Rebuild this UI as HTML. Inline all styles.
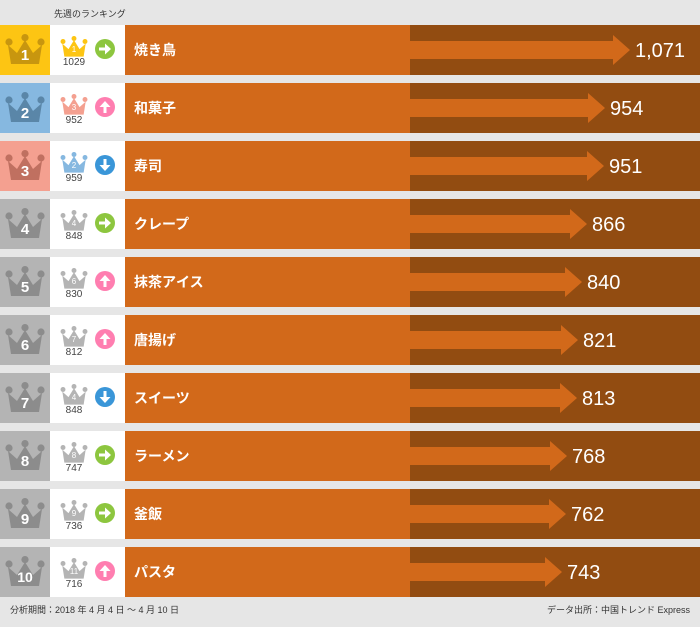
<!DOCTYPE html><html><head><meta charset="utf-8"><style>
body{margin:0;background:#e6e6e6;font-family:"Liberation Sans","Noto Sans CJK JP",sans-serif}
svg text{font-family:"Liberation Sans","Noto Sans CJK JP",sans-serif}
</style></head><body>
<svg width="700" height="622" xmlns="http://www.w3.org/2000/svg">
<defs>
<symbol id="cr" viewBox="0 0 40 32"><circle cx="4" cy="8" r="3.6"/><circle cx="20" cy="3.6" r="3.6"/><circle cx="36" cy="8" r="3.6"/><path d="M3,11 L12,19 L20,6 L28,19 L37,11 L34,30 L6,30 Z"/></symbol>
</defs>
<rect width="700" height="622" fill="#e6e6e6"/>
<text x="54" y="17" font-size="9" fill="#333">先週のランキング</text>
<g id="rows"></g>
<text x="10" y="613" font-size="9" fill="#333">分析期間：2018 年 4 月 4 日 ～ 4 月 10 日</text>
<text x="690" y="613" font-size="9" fill="#333" text-anchor="end">データ出所：中国トレンド Express</text>
</svg>
<script>
const d=[["焼き鳥","1,071",630,1,"1029","r"],["和菓子","954",605,3,"952","u"],["寿司","951",604,2,"959","d"],["クレープ","866",587,4,"848","r"],["抹茶アイス","840",582,6,"830","u"],["唐揚げ","821",578,7,"812","u"],["スイーツ","813",577,4,"848","d"],["ラーメン","768",567,8,"747","r"],["釜飯","762",566,9,"736","r"],["パスタ","743",562,11,"716","u"]];
const bg=["#fdc513","#86b8e0","#f4a090"],cc=["#c8960f","#5a86a8","#c07060"],sc=["#fdc513","#86b8e0","#f4a090"];
let s="";
d.forEach((r,i)=>{const y=25+58*i,m=y+25;
const b=i<3?bg[i]:"#b4b4b4",c=i<3?cc[i]:"#8c8c8c",p=r[3]<=3?sc[r[3]-1]:"#b4b4b4";
s+=`<rect x="0" y="${y}" width="50" height="50" fill="${b}"/><use href="#cr" x="5" y="${y+9}" width="40" height="32" fill="${c}"/>
<text x="25" y="${y+35}" font-size="${i==9?14:15}" font-weight="bold" fill="#fff" text-anchor="middle">${i+1}</text>
<rect x="50" y="${y}" width="75" height="50" fill="#fff"/><use href="#cr" x="60" y="${y+11}" width="28" height="22" fill="${p}"/>
<text x="74" y="${y+27}" font-size="8" fill="#fff" text-anchor="middle">${r[3]}</text>
<text x="74" y="${y+40}" font-size="10" fill="#444" text-anchor="middle">${r[4]}</text>`;
const col=r[5]=="r"?"#8dc63f":r[5]=="u"?"#ff7eb0":"#3a96d8";
s+=`<circle cx="105" cy="${m-1}" r="10" fill="${col}"/>`;
const cx=105,cy=m-1;
if(r[5]=="r")s+=`<path d="M${cx-6},${cy-1.5}h6v-4l6,5.5l-6,5.5v-4h-6z" fill="#fff"/>`;
else if(r[5]=="u")s+=`<path d="M${cx-1.5},${cy+6}v-6h-4l5.5,-6l5.5,6h-4v6z" fill="#fff"/>`;
else s+=`<path d="M${cx-1.5},${cy-6}v6h-4l5.5,6l5.5,-6h-4v-6z" fill="#fff"/>`;
s+=`<rect x="125" y="${y}" width="285" height="50" fill="#d2691a"/><rect x="410" y="${y}" width="290" height="50" fill="#924c11"/>
<text x="134" y="${y+30}" font-size="14" font-weight="bold" fill="#fff">${r[0]}</text>
<path d="M410,${y+16}H${r[2]-17}V${y+10}L${r[2]},${y+25}L${r[2]-17},${y+40}V${y+34}H410Z" fill="#d2691a"/>
<text x="${r[2]+5}" y="${y+32}" font-size="20" fill="#fff">${r[1]}</text>`;});
document.getElementById("rows").innerHTML=s;
</script>
</body></html>
